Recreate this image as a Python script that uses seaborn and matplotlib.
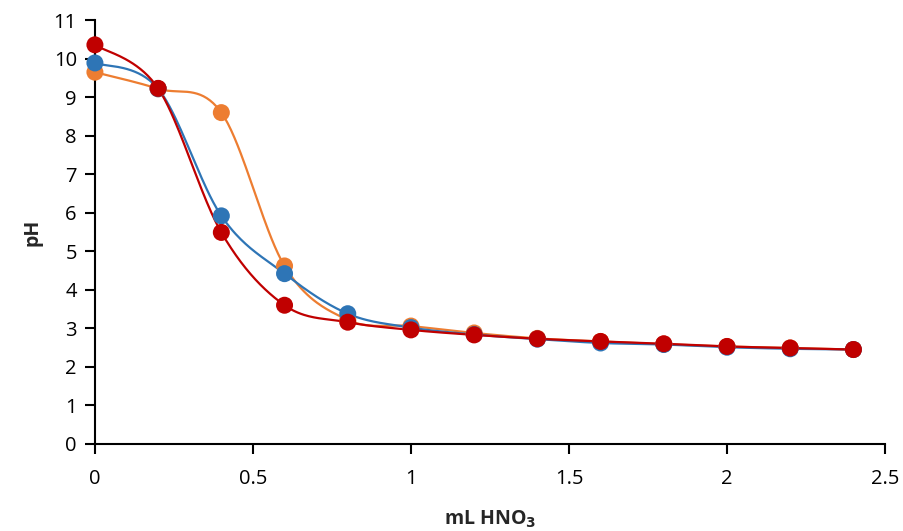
import numpy as np
import pandas as pd
import matplotlib
matplotlib.use("Agg")
import matplotlib.pyplot as plt
import seaborn as sns

ml_hno3 = [0.0, 0.2, 0.4, 0.6, 0.8, 1.0, 1.2, 1.4, 1.6, 1.8, 2.0, 2.2, 2.4]
ph_orange = [9.65, 9.22, 8.60, 4.62, 3.22, 3.06, 2.88, 2.74, 2.66, 2.59, 2.53, 2.49, 2.45]
ph_blue = [9.89, 9.22, 5.92, 4.42, 3.38, 3.02, 2.84, 2.72, 2.62, 2.58, 2.51, 2.47, 2.45]
ph_red = [10.36, 9.23, 5.49, 3.60, 3.16, 2.96, 2.83, 2.73, 2.66, 2.60, 2.53, 2.49, 2.45]
series_colors = {"orange": "#ED7D31", "blue": "#2E75B6", "red": "#C00000"}

sns.set_theme(style="white")
plt.rcParams["font.family"] = ["Open Sans", "DejaVu Sans"]


def smooth(x, y, n=40):
    x = np.asarray(x, float)
    y = np.asarray(y, float)
    px = np.concatenate([[x[0]], x, [x[-1]]])
    py = np.concatenate([[y[0]], y, [y[-1]]])
    xs, ys = [], []
    t = np.linspace(0, 1, n)
    for i in range(1, len(px) - 2):
        p0 = np.array([px[i], py[i]])
        p3 = np.array([px[i + 1], py[i + 1]])
        p1 = p0 + (np.array([px[i + 1], py[i + 1]]) - np.array([px[i - 1], py[i - 1]])) / 6
        p2 = p3 - (np.array([px[i + 2], py[i + 2]]) - np.array([px[i], py[i]])) / 6
        b = ((1 - t) ** 3)[:, None] * p0 + (3 * (1 - t) ** 2 * t)[:, None] * p1 \
            + (3 * (1 - t) * t ** 2)[:, None] * p2 + (t ** 3)[:, None] * p3
        xs.extend(b[:, 0])
        ys.extend(b[:, 1])
    return np.array(xs), np.array(ys)


fig = plt.figure(figsize=(9.04, 5.31), dpi=100)
ax = fig.add_axes([0.105, 0.164, 0.874, 0.798])

for name, vals in [("orange", ph_orange), ("blue", ph_blue), ("red", ph_red)]:
    c = series_colors[name]
    sx, sy = smooth(ml_hno3, vals)
    ax.plot(sx, sy, color=c, lw=1.6, zorder=2, clip_on=False)
    sns.scatterplot(x=ml_hno3, y=vals, color=c, s=150, edgecolor="none", ax=ax, zorder=3)
for coll in ax.collections:
    coll.set_clip_on(False)

ax.set_xlim(0, 2.5)
ax.set_ylim(0, 11)
ax.set_xticks([0, 0.5, 1, 1.5, 2, 2.5])
ax.set_xticklabels(["0", "0.5", "1", "1.5", "2", "2.5"])
ax.set_yticks(range(0, 12))
for s in ["top", "right"]:
    ax.spines[s].set_visible(False)
for s in ["left", "bottom"]:
    ax.spines[s].set_color("black")
    ax.spines[s].set_linewidth(1.5)
    ax.spines[s].set_zorder(1)
ax.tick_params(axis="both", direction="out", length=7, width=1.5, colors="black",
               labelsize=14.5, bottom=True, left=True)
ax.tick_params(axis="x", pad=11)
ax.tick_params(axis="y", pad=6)
ax.set_xlabel("mL HNO$_\\mathbf{3}$", fontsize=14, fontweight="bold", labelpad=14)
ax.set_ylabel("pH", fontsize=14, fontweight="bold", labelpad=8)

fig.savefig("out.png", dpi=100)
